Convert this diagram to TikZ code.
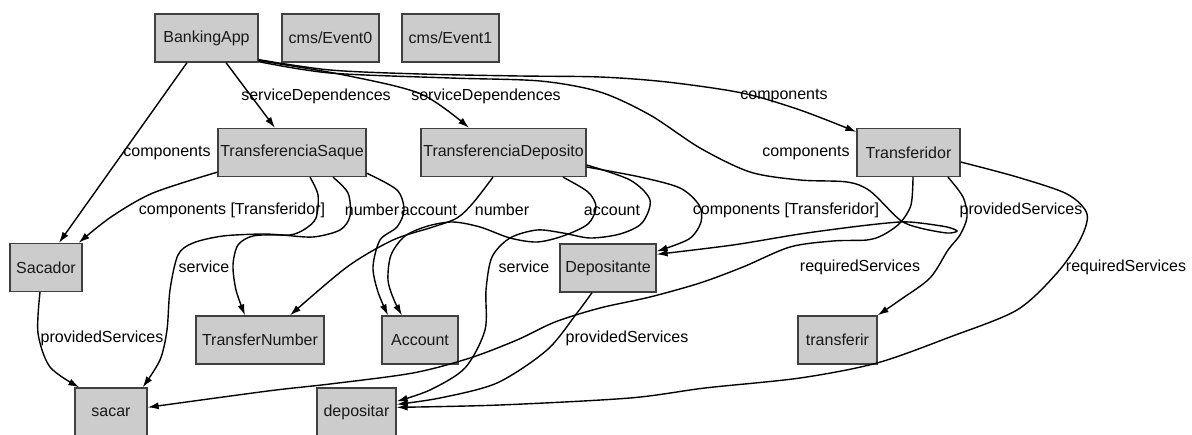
\documentclass[tikz,border=0pt]{standalone}
\usepackage{fontspec}
\setmainfont{Liberation Sans}
\usetikzlibrary{arrows.meta}
\begin{document}
\begin{tikzpicture}[x=1pt,y=-1pt,
  box/.style={draw=black!75, line width=1.3pt, fill=black!20, minimum height=48pt, inner sep=0pt, font=\fontsize{16}{19}\selectfont, text=black!90},
  lbl/.style={inner sep=0pt, font=\fontsize{16}{19}\selectfont},
  edge/.style={draw=black, line width=1.4pt, -{Latex[length=11pt,width=7pt]}},
]
\fill[white] (0,0) rectangle (1192,435);
\useasboundingbox (0,0) rectangle (1192,435);
\clip (0,0) rectangle (1192,435);

% nodes
\node[box, minimum width=103pt] (bank) at (206.5,38) {BankingApp};
\node[box, minimum width=97pt] (ev0) at (330.5,38) {cms/Event0};
\node[box, minimum width=97pt] (ev1) at (450.5,38) {cms/Event1};
\node[box, minimum width=148pt] (ts) at (292,152.5) {TransferenciaSaque};
\node[box, minimum width=165pt] (td) at (503.5,152.5) {TransferenciaDeposito};
\node[box, minimum width=103pt] (tf) at (908.5,152.5) {Transferidor};
\node[box, minimum width=72pt] (sac) at (46,267.5) {Sacador};
\node[box, minimum width=96pt] (dep) at (608,268) {Depositante};
\node[box, minimum width=128pt] (tn) at (260,340) {TransferNumber};
\node[box, minimum width=76pt] (acc) at (420,340) {Account};
\node[box, minimum width=79pt] (tr) at (837.5,340) {transferir};
\node[box, minimum width=72pt] (sacar) at (111,412) {sacar};
\node[box, minimum width=79pt] (dpt) at (356.5,412) {depositar};

% edges
\draw[edge] ([xshift=-19.5pt]bank.south) -- ([xshift=13pt]sac.north);
\draw[edge] ([xshift=19.5pt]bank.south) -- ([xshift=-17pt]ts.north);
\draw[edge] plot[smooth] coordinates {([yshift=2pt]bank.south east) (344,75) (421,94) ([xshift=-34.5pt]td.north)};
\draw[edge] plot[smooth] coordinates {([yshift=3pt]bank.south east) (330,70) (420,74) (520,76) (600,77) (667,82) (742,93) (800,110) ([yshift=-4pt]tf.north west)};
\draw[edge] plot[smooth] coordinates {([yshift=1pt]bank.south east) (330,73) (450,78) (540,81) (600,92) (650,115) (700,148) (750,172) (800,180) (847,182) (870,191) (900,220) (920,228) (947,233) (957,231) (947,227) (920,223) (900,222) (860,226) (800,234) (733,245) ([yshift=-11pt]dep.north east)};
\draw[edge] plot[smooth] coordinates {([xshift=4.5pt]tf.south) (911,205) (900,223) (883,235) (867,240) (833,241) (790,247) (743,267) (700,283) (650,297) (600,308) (555,322) (517,340) (470,358) (413,373) (330,384) (268,391) ([yshift=-20pt]sacar.north east)};
\draw[edge] plot[smooth] coordinates {([xshift=39.5pt]tf.south) (963,197) (967,217) (960,235) (948,250) (930,278) (900,300) (tr.north east)};
\draw[edge] plot[smooth] coordinates {([yshift=-9.5pt]tf.east) (1017,177) (1067,194) (1087,214) (1080,240) (1057,273) (1017,310) (950,337) (877,363) (800,378) (705,388) (630,398) (500,405) ([yshift=-20pt]dpt.north east)};
\draw[edge] plot[smooth] coordinates {([xshift=-6pt]sac.south) (38,333) (50,367) ([xshift=5pt]sacar.north west)};
\draw[edge] plot[smooth] coordinates {([yshift=5pt]ts.south west) (153,193) (111,217) ([xshift=-4pt]sac.north east)};
\draw[edge] plot[smooth] coordinates {([xshift=18pt]ts.south) (318,195) (316,218) (305,229) (290,235) (263,234) (223,236) (193,243) (178,255) (170,290) (167,330) (160,360) ([xshift=-5pt]sacar.north east)};
\draw[edge] plot[smooth] coordinates {([xshift=41pt]ts.south) (348,193) (350,216) (340,230) (313,237) (280,235) (253,236) (238,245) (233,265) (236,290) ([xshift=-15pt]tn.north)};
\draw[edge] plot[smooth] coordinates {([yshift=4pt]ts.south east) (397,190) (404,210) (397,227) (380,240) (373,267) (378,292) ([xshift=-32pt]acc.north)};
\draw[edge] plot[smooth] coordinates {([xshift=-10.5pt]td.south) (473,203) (457,218) (433,227) (393,240) (347,267) ([xshift=30pt]tn.north)};
\draw[edge] plot[smooth] coordinates {([xshift=59.5pt]td.south) (588,192) (596,207) (588,224) (563,236) (537,242) (510,238) (480,227) (453,222) (428,226) (405,236) (391,255) (388,280) (394,300) ([xshift=-18pt]acc.north)};
\draw[edge] plot[smooth] coordinates {([yshift=-12.5pt]td.east) (630,180) (650,200) (642,223) (620,234) (590,238) (563,233) (537,230) (510,238) (492,257) (486,290) (485,330) (465,368) (430,390) ([yshift=-14pt]dpt.north east)};
\draw[edge] plot[smooth] coordinates {([yshift=-14.5pt]td.east) (640,177) (680,188) (699,205) (701,222) (689,239) ([yshift=-8pt]dep.north east)};
\draw[edge] plot[smooth] coordinates {([xshift=-16pt]dep.south) (577,313) (547,350) (497,383) (440,398) ([yshift=-17pt]dpt.north east)};

% labels
\node[lbl] (l1) at (167,153) {components};
\node[lbl] (l2) at (316,96) {serviceDependences};
\node[lbl] (l3) at (486,96) {serviceDependences};
\node[lbl] (l4) at (784,96) {components};
\node[lbl] (l5) at (806,153) {components};
\node[lbl] (l6) at (232,210) {components [Transferidor]};
\node[lbl] (l7) at (372,210) {number};
\node[lbl] (l8) at (429,210) {account};
\node[lbl] (l9) at (502,210) {number};
\node[lbl] (l10) at (612,210) {account};
\node[lbl] (l11) at (786,210) {components [Transferidor]};
\node[lbl] (l12) at (1021,210) {providedServices};
\node[lbl] (l13) at (204,267) {service};
\node[lbl] (l14) at (524,267) {service};
\node[lbl] (l15) at (860,267) {requiredServices};
\node[lbl] (l16) at (1126,267) {requiredServices};
\node[lbl] (l17) at (102,338) {providedServices};
\node[lbl] (l18) at (627,338) {providedServices};
\end{tikzpicture}
\end{document}
